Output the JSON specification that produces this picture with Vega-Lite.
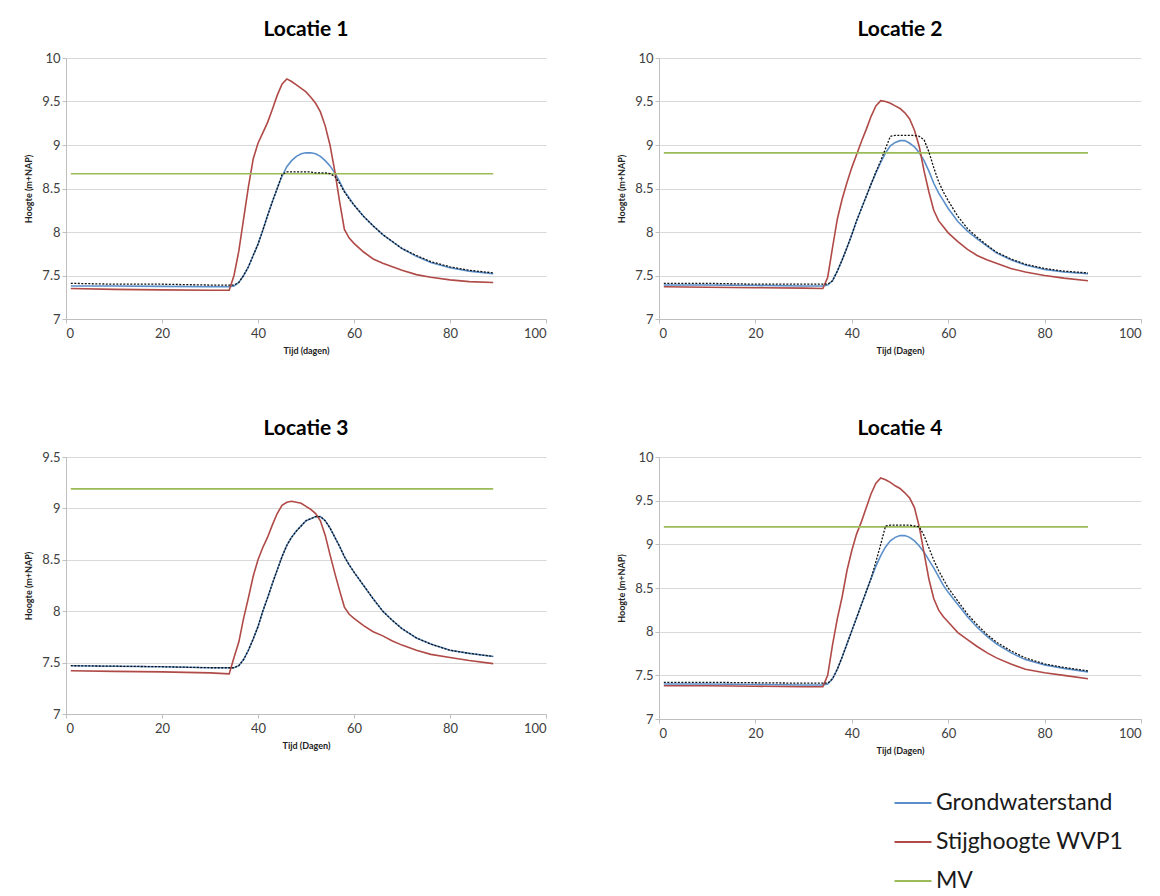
{
  "$schema": "https://vega.github.io/schema/vega-lite/v6.json",
  "background": "white",
  "padding": {"left": 24, "top": 19, "right": 5, "bottom": 5},
  "config": {
    "font": "Lato",
    "view": {"stroke": null},
    "title": {"font": "Lato", "fontSize": 21, "fontWeight": "bold", "color": "#000000", "offset": 12},
    "axis": {"labelFont": "Lato", "labelFontSize": 13, "labelColor": "#404040", "titleFont": "Lato", "titleFontSize": 9, "titleFontWeight": "bold", "titleColor": "#222222", "domainColor": "#bfbfbf", "tickColor": "#bfbfbf", "gridColor": "#d9d9d9", "tickSize": 4},
    "axisX": {"grid": false, "labelPadding": 4, "titlePadding": 6},
    "axisY": {"grid": true, "format": "~g", "titlePadding": 8},
    "legend": {"labelFont": "Lato"}
  },
  "datasets": {
    "reeks": [
      {"p":1,"d":1,"g":7.38,"s":7.35,"k":7.41,"m":8.67},
      {"p":1,"d":10,"g":7.38,"s":7.34,"k":7.40,"m":8.67},
      {"p":1,"d":20,"g":7.375,"s":7.335,"k":7.40,"m":8.67},
      {"p":1,"d":30,"g":7.37,"s":7.33,"k":7.39,"m":8.67},
      {"p":1,"d":34,"g":7.37,"s":7.33,"k":7.39,"m":8.67},
      {"p":1,"d":35,"g":7.38,"s":7.50,"k":7.39,"m":8.67},
      {"p":1,"d":36,"g":7.42,"s":7.78,"k":7.42,"m":8.67},
      {"p":1,"d":37,"g":7.50,"s":8.15,"k":7.50,"m":8.67},
      {"p":1,"d":38,"g":7.60,"s":8.52,"k":7.60,"m":8.67},
      {"p":1,"d":39,"g":7.73,"s":8.84,"k":7.73,"m":8.67},
      {"p":1,"d":40,"g":7.86,"s":9.02,"k":7.86,"m":8.67},
      {"p":1,"d":41,"g":8.02,"s":9.14,"k":8.02,"m":8.67},
      {"p":1,"d":42,"g":8.19,"s":9.26,"k":8.19,"m":8.67},
      {"p":1,"d":43,"g":8.35,"s":9.41,"k":8.35,"m":8.67},
      {"p":1,"d":44,"g":8.50,"s":9.57,"k":8.50,"m":8.67},
      {"p":1,"d":45,"g":8.64,"s":9.70,"k":8.66,"m":8.67},
      {"p":1,"d":46,"g":8.75,"s":9.76,"k":8.69,"m":8.67},
      {"p":1,"d":47,"g":8.82,"s":9.73,"k":8.69,"m":8.67},
      {"p":1,"d":48,"g":8.87,"s":9.69,"k":8.69,"m":8.67},
      {"p":1,"d":49,"g":8.90,"s":9.65,"k":8.69,"m":8.67},
      {"p":1,"d":50,"g":8.91,"s":9.61,"k":8.69,"m":8.67},
      {"p":1,"d":51,"g":8.91,"s":9.55,"k":8.69,"m":8.67},
      {"p":1,"d":52,"g":8.90,"s":9.48,"k":8.68,"m":8.67},
      {"p":1,"d":53,"g":8.87,"s":9.38,"k":8.68,"m":8.67},
      {"p":1,"d":54,"g":8.82,"s":9.22,"k":8.68,"m":8.67},
      {"p":1,"d":55,"g":8.76,"s":9.00,"k":8.67,"m":8.67},
      {"p":1,"d":56,"g":8.68,"s":8.70,"k":8.64,"m":8.67},
      {"p":1,"d":57,"g":8.58,"s":8.35,"k":8.56,"m":8.67},
      {"p":1,"d":58,"g":8.47,"s":8.03,"k":8.46,"m":8.67},
      {"p":1,"d":59,"g":8.39,"s":7.93,"k":8.38,"m":8.67},
      {"p":1,"d":60,"g":8.31,"s":7.87,"k":8.31,"m":8.67},
      {"p":1,"d":62,"g":8.18,"s":7.77,"k":8.18,"m":8.67},
      {"p":1,"d":64,"g":8.07,"s":7.69,"k":8.07,"m":8.67},
      {"p":1,"d":66,"g":7.97,"s":7.64,"k":7.97,"m":8.67},
      {"p":1,"d":68,"g":7.89,"s":7.60,"k":7.89,"m":8.67},
      {"p":1,"d":70,"g":7.81,"s":7.56,"k":7.81,"m":8.67},
      {"p":1,"d":73,"g":7.72,"s":7.51,"k":7.73,"m":8.67},
      {"p":1,"d":76,"g":7.65,"s":7.48,"k":7.66,"m":8.67},
      {"p":1,"d":80,"g":7.59,"s":7.45,"k":7.60,"m":8.67},
      {"p":1,"d":84,"g":7.55,"s":7.43,"k":7.56,"m":8.67},
      {"p":1,"d":89,"g":7.52,"s":7.42,"k":7.53,"m":8.67},

      {"p":2,"d":1,"g":7.39,"s":7.37,"k":7.41,"m":8.91},
      {"p":2,"d":10,"g":7.39,"s":7.365,"k":7.41,"m":8.91},
      {"p":2,"d":20,"g":7.385,"s":7.36,"k":7.40,"m":8.91},
      {"p":2,"d":30,"g":7.38,"s":7.355,"k":7.40,"m":8.91},
      {"p":2,"d":34,"g":7.38,"s":7.35,"k":7.40,"m":8.91},
      {"p":2,"d":35,"g":7.39,"s":7.48,"k":7.40,"m":8.91},
      {"p":2,"d":36,"g":7.44,"s":7.82,"k":7.44,"m":8.91},
      {"p":2,"d":37,"g":7.55,"s":8.15,"k":7.55,"m":8.91},
      {"p":2,"d":38,"g":7.68,"s":8.38,"k":7.68,"m":8.91},
      {"p":2,"d":39,"g":7.82,"s":8.57,"k":7.82,"m":8.91},
      {"p":2,"d":40,"g":7.97,"s":8.74,"k":7.97,"m":8.91},
      {"p":2,"d":41,"g":8.13,"s":8.89,"k":8.13,"m":8.91},
      {"p":2,"d":42,"g":8.27,"s":9.04,"k":8.27,"m":8.91},
      {"p":2,"d":43,"g":8.41,"s":9.18,"k":8.41,"m":8.91},
      {"p":2,"d":44,"g":8.55,"s":9.33,"k":8.55,"m":8.91},
      {"p":2,"d":45,"g":8.68,"s":9.45,"k":8.69,"m":8.91},
      {"p":2,"d":46,"g":8.80,"s":9.51,"k":8.82,"m":8.91},
      {"p":2,"d":47,"g":8.91,"s":9.50,"k":8.96,"m":8.91},
      {"p":2,"d":48,"g":8.99,"s":9.48,"k":9.10,"m":8.91},
      {"p":2,"d":49,"g":9.03,"s":9.45,"k":9.11,"m":8.91},
      {"p":2,"d":50,"g":9.05,"s":9.42,"k":9.11,"m":8.91},
      {"p":2,"d":51,"g":9.05,"s":9.37,"k":9.11,"m":8.91},
      {"p":2,"d":52,"g":9.02,"s":9.30,"k":9.11,"m":8.91},
      {"p":2,"d":53,"g":8.98,"s":9.17,"k":9.11,"m":8.91},
      {"p":2,"d":54,"g":8.91,"s":8.98,"k":9.10,"m":8.91},
      {"p":2,"d":55,"g":8.82,"s":8.70,"k":9.06,"m":8.91},
      {"p":2,"d":56,"g":8.70,"s":8.46,"k":8.92,"m":8.91},
      {"p":2,"d":57,"g":8.56,"s":8.25,"k":8.74,"m":8.91},
      {"p":2,"d":58,"g":8.45,"s":8.13,"k":8.58,"m":8.91},
      {"p":2,"d":59,"g":8.36,"s":8.06,"k":8.46,"m":8.91},
      {"p":2,"d":60,"g":8.27,"s":7.99,"k":8.36,"m":8.91},
      {"p":2,"d":62,"g":8.12,"s":7.89,"k":8.18,"m":8.91},
      {"p":2,"d":64,"g":8.01,"s":7.80,"k":8.04,"m":8.91},
      {"p":2,"d":66,"g":7.92,"s":7.73,"k":7.94,"m":8.91},
      {"p":2,"d":68,"g":7.84,"s":7.68,"k":7.85,"m":8.91},
      {"p":2,"d":70,"g":7.76,"s":7.64,"k":7.77,"m":8.91},
      {"p":2,"d":73,"g":7.68,"s":7.58,"k":7.69,"m":8.91},
      {"p":2,"d":76,"g":7.62,"s":7.54,"k":7.63,"m":8.91},
      {"p":2,"d":80,"g":7.57,"s":7.50,"k":7.58,"m":8.91},
      {"p":2,"d":84,"g":7.54,"s":7.47,"k":7.55,"m":8.91},
      {"p":2,"d":89,"g":7.52,"s":7.44,"k":7.53,"m":8.91},

      {"p":3,"d":1,"g":7.47,"s":7.42,"k":7.47,"m":9.19},
      {"p":3,"d":10,"g":7.465,"s":7.415,"k":7.465,"m":9.19},
      {"p":3,"d":20,"g":7.46,"s":7.41,"k":7.46,"m":9.19},
      {"p":3,"d":30,"g":7.45,"s":7.40,"k":7.45,"m":9.19},
      {"p":3,"d":34,"g":7.45,"s":7.39,"k":7.45,"m":9.19},
      {"p":3,"d":35,"g":7.45,"s":7.55,"k":7.45,"m":9.19},
      {"p":3,"d":36,"g":7.47,"s":7.70,"k":7.47,"m":9.19},
      {"p":3,"d":37,"g":7.53,"s":7.93,"k":7.53,"m":9.19},
      {"p":3,"d":38,"g":7.62,"s":8.13,"k":7.62,"m":9.19},
      {"p":3,"d":39,"g":7.73,"s":8.34,"k":7.73,"m":9.19},
      {"p":3,"d":40,"g":7.85,"s":8.50,"k":7.85,"m":9.19},
      {"p":3,"d":41,"g":8.00,"s":8.62,"k":8.00,"m":9.19},
      {"p":3,"d":42,"g":8.13,"s":8.72,"k":8.13,"m":9.19},
      {"p":3,"d":43,"g":8.27,"s":8.84,"k":8.27,"m":9.19},
      {"p":3,"d":44,"g":8.40,"s":8.95,"k":8.40,"m":9.19},
      {"p":3,"d":45,"g":8.53,"s":9.03,"k":8.53,"m":9.19},
      {"p":3,"d":46,"g":8.64,"s":9.06,"k":8.64,"m":9.19},
      {"p":3,"d":47,"g":8.72,"s":9.07,"k":8.72,"m":9.19},
      {"p":3,"d":48,"g":8.78,"s":9.06,"k":8.78,"m":9.19},
      {"p":3,"d":49,"g":8.83,"s":9.05,"k":8.83,"m":9.19},
      {"p":3,"d":50,"g":8.88,"s":9.02,"k":8.88,"m":9.19},
      {"p":3,"d":51,"g":8.90,"s":8.99,"k":8.90,"m":9.19},
      {"p":3,"d":52,"g":8.92,"s":8.95,"k":8.92,"m":9.19},
      {"p":3,"d":53,"g":8.92,"s":8.88,"k":8.92,"m":9.19},
      {"p":3,"d":54,"g":8.88,"s":8.74,"k":8.88,"m":9.19},
      {"p":3,"d":55,"g":8.81,"s":8.55,"k":8.81,"m":9.19},
      {"p":3,"d":56,"g":8.72,"s":8.37,"k":8.72,"m":9.19},
      {"p":3,"d":57,"g":8.63,"s":8.20,"k":8.63,"m":9.19},
      {"p":3,"d":58,"g":8.53,"s":8.04,"k":8.53,"m":9.19},
      {"p":3,"d":59,"g":8.45,"s":7.97,"k":8.45,"m":9.19},
      {"p":3,"d":60,"g":8.38,"s":7.93,"k":8.38,"m":9.19},
      {"p":3,"d":62,"g":8.25,"s":7.86,"k":8.25,"m":9.19},
      {"p":3,"d":64,"g":8.12,"s":7.80,"k":8.12,"m":9.19},
      {"p":3,"d":66,"g":8.00,"s":7.76,"k":8.00,"m":9.19},
      {"p":3,"d":68,"g":7.91,"s":7.71,"k":7.91,"m":9.19},
      {"p":3,"d":70,"g":7.83,"s":7.67,"k":7.83,"m":9.19},
      {"p":3,"d":73,"g":7.74,"s":7.62,"k":7.74,"m":9.19},
      {"p":3,"d":76,"g":7.68,"s":7.58,"k":7.68,"m":9.19},
      {"p":3,"d":80,"g":7.62,"s":7.55,"k":7.62,"m":9.19},
      {"p":3,"d":84,"g":7.59,"s":7.52,"k":7.59,"m":9.19},
      {"p":3,"d":89,"g":7.56,"s":7.49,"k":7.56,"m":9.19},

      {"p":4,"d":1,"g":7.40,"s":7.38,"k":7.42,"m":9.20},
      {"p":4,"d":10,"g":7.40,"s":7.38,"k":7.42,"m":9.20},
      {"p":4,"d":20,"g":7.395,"s":7.375,"k":7.415,"m":9.20},
      {"p":4,"d":30,"g":7.39,"s":7.37,"k":7.41,"m":9.20},
      {"p":4,"d":34,"g":7.39,"s":7.37,"k":7.41,"m":9.20},
      {"p":4,"d":35,"g":7.40,"s":7.50,"k":7.41,"m":9.20},
      {"p":4,"d":36,"g":7.46,"s":7.85,"k":7.46,"m":9.20},
      {"p":4,"d":37,"g":7.57,"s":8.15,"k":7.57,"m":9.20},
      {"p":4,"d":38,"g":7.71,"s":8.40,"k":7.71,"m":9.20},
      {"p":4,"d":39,"g":7.86,"s":8.70,"k":7.86,"m":9.20},
      {"p":4,"d":40,"g":8.01,"s":8.93,"k":8.01,"m":9.20},
      {"p":4,"d":41,"g":8.16,"s":9.12,"k":8.16,"m":9.20},
      {"p":4,"d":42,"g":8.31,"s":9.26,"k":8.31,"m":9.20},
      {"p":4,"d":43,"g":8.46,"s":9.42,"k":8.46,"m":9.20},
      {"p":4,"d":44,"g":8.61,"s":9.58,"k":8.61,"m":9.20},
      {"p":4,"d":45,"g":8.75,"s":9.70,"k":8.80,"m":9.20},
      {"p":4,"d":46,"g":8.87,"s":9.76,"k":9.00,"m":9.20},
      {"p":4,"d":47,"g":8.97,"s":9.74,"k":9.21,"m":9.20},
      {"p":4,"d":48,"g":9.04,"s":9.71,"k":9.22,"m":9.20},
      {"p":4,"d":49,"g":9.08,"s":9.67,"k":9.22,"m":9.20},
      {"p":4,"d":50,"g":9.10,"s":9.64,"k":9.22,"m":9.20},
      {"p":4,"d":51,"g":9.10,"s":9.59,"k":9.22,"m":9.20},
      {"p":4,"d":52,"g":9.08,"s":9.53,"k":9.22,"m":9.20},
      {"p":4,"d":53,"g":9.04,"s":9.42,"k":9.21,"m":9.20},
      {"p":4,"d":54,"g":8.98,"s":9.20,"k":9.20,"m":9.20},
      {"p":4,"d":55,"g":8.91,"s":8.90,"k":9.10,"m":9.20},
      {"p":4,"d":56,"g":8.82,"s":8.60,"k":8.96,"m":9.20},
      {"p":4,"d":57,"g":8.73,"s":8.38,"k":8.82,"m":9.20},
      {"p":4,"d":58,"g":8.63,"s":8.25,"k":8.70,"m":9.20},
      {"p":4,"d":59,"g":8.53,"s":8.17,"k":8.60,"m":9.20},
      {"p":4,"d":60,"g":8.45,"s":8.11,"k":8.50,"m":9.20},
      {"p":4,"d":62,"g":8.31,"s":7.99,"k":8.35,"m":9.20},
      {"p":4,"d":64,"g":8.17,"s":7.91,"k":8.20,"m":9.20},
      {"p":4,"d":66,"g":8.05,"s":7.83,"k":8.08,"m":9.20},
      {"p":4,"d":68,"g":7.95,"s":7.76,"k":7.97,"m":9.20},
      {"p":4,"d":70,"g":7.86,"s":7.70,"k":7.88,"m":9.20},
      {"p":4,"d":73,"g":7.76,"s":7.63,"k":7.78,"m":9.20},
      {"p":4,"d":76,"g":7.68,"s":7.57,"k":7.70,"m":9.20},
      {"p":4,"d":80,"g":7.62,"s":7.53,"k":7.63,"m":9.20},
      {"p":4,"d":84,"g":7.58,"s":7.50,"k":7.59,"m":9.20},
      {"p":4,"d":89,"g":7.54,"s":7.46,"k":7.55,"m":9.20}
    ]
  },
  "data": {"name": "reeks"},
  "spacing": 63,
  "vconcat": [
    {
      "spacing": 70,
      "hconcat": [
        {
          "title": "Locatie 1",
          "width": 480, "height": 261,
          "transform": [{"filter": "datum.p == 1"}],
          "layer": [
            {
              "transform": [{"fold": ["g", "s", "m"], "as": ["serie", "h"]}],
              "mark": {"type": "line", "strokeWidth": 1.6},
              "encoding": {
                "x": {"field": "d", "type": "quantitative", "scale": {"domain": [0, 100], "nice": false}, "title": "Tijd (dagen)", "axis": {"values": [0, 20, 40, 60, 80, 100]}},
                "y": {"field": "h", "type": "quantitative", "scale": {"domain": [7, 10], "nice": false}, "title": "Hoogte (m+NAP)", "axis": {"values": [7, 7.5, 8, 8.5, 9, 9.5, 10]}},
                "color": {"field": "serie", "type": "nominal", "scale": {"domain": ["g", "s", "m"], "range": ["#5b8fc9", "#b04a47", "#9bbb59"]},
                  "legend": {"orient": "none", "legendX": 827, "legendY": 725, "title": null, "symbolType": "stroke", "symbolSize": 1369, "symbolStrokeWidth": 2.2, "labelFontSize": 23, "labelColor": "#1a1a1a", "labelOffset": 3, "rowPadding": 7, "labelLimit": 400,
                    "labelExpr": "datum.value == 'g' ? 'Grondwaterstand' : datum.value == 's' ? 'Stijghoogte WVP1' : 'MV'"}}
              }
            },
            {
              "mark": {"type": "line", "color": "#111111", "strokeWidth": 1.3, "strokeDash": [2, 1.5]},
              "encoding": {
                "x": {"field": "d", "type": "quantitative"},
                "y": {"field": "k", "type": "quantitative"}
              }
            }
          ]
        },
        {
          "title": "Locatie 2",
          "width": 482, "height": 261,
          "transform": [{"filter": "datum.p == 2"}],
          "layer": [
            {
              "transform": [{"fold": ["g", "s", "m"], "as": ["serie", "h"]}],
              "mark": {"type": "line", "strokeWidth": 1.6},
              "encoding": {
                "x": {"field": "d", "type": "quantitative", "scale": {"domain": [0, 100], "nice": false}, "title": "Tijd (Dagen)", "axis": {"values": [0, 20, 40, 60, 80, 100]}},
                "y": {"field": "h", "type": "quantitative", "scale": {"domain": [7, 10], "nice": false}, "title": "Hoogte (m+NAP)", "axis": {"values": [7, 7.5, 8, 8.5, 9, 9.5, 10]}},
                "color": {"field": "serie", "type": "nominal"}
              }
            },
            {
              "mark": {"type": "line", "color": "#111111", "strokeWidth": 1.3, "strokeDash": [2, 1.5]},
              "encoding": {
                "x": {"field": "d", "type": "quantitative"},
                "y": {"field": "k", "type": "quantitative"}
              }
            }
          ]
        }
      ]
    },
    {
      "spacing": 70,
      "hconcat": [
        {
          "title": "Locatie 3",
          "width": 480, "height": 257,
          "transform": [{"filter": "datum.p == 3"}],
          "layer": [
            {
              "transform": [{"fold": ["g", "s", "m"], "as": ["serie", "h"]}],
              "mark": {"type": "line", "strokeWidth": 1.6},
              "encoding": {
                "x": {"field": "d", "type": "quantitative", "scale": {"domain": [0, 100], "nice": false}, "title": "Tijd (Dagen)", "axis": {"values": [0, 20, 40, 60, 80, 100]}},
                "y": {"field": "h", "type": "quantitative", "scale": {"domain": [7, 9.5], "nice": false}, "title": "Hoogte (m+NAP)", "axis": {"values": [7, 7.5, 8, 8.5, 9, 9.5]}},
                "color": {"field": "serie", "type": "nominal"}
              }
            },
            {
              "mark": {"type": "line", "color": "#111111", "strokeWidth": 1.3, "strokeDash": [2, 1.5]},
              "encoding": {
                "x": {"field": "d", "type": "quantitative"},
                "y": {"field": "k", "type": "quantitative"}
              }
            }
          ]
        },
        {
          "title": "Locatie 4",
          "width": 482, "height": 262,
          "transform": [{"filter": "datum.p == 4"}],
          "layer": [
            {
              "transform": [{"fold": ["g", "s", "m"], "as": ["serie", "h"]}],
              "mark": {"type": "line", "strokeWidth": 1.6},
              "encoding": {
                "x": {"field": "d", "type": "quantitative", "scale": {"domain": [0, 100], "nice": false}, "title": "Tijd (Dagen)", "axis": {"values": [0, 20, 40, 60, 80, 100]}},
                "y": {"field": "h", "type": "quantitative", "scale": {"domain": [7, 10], "nice": false}, "title": "Hoogte (m+NAP)", "axis": {"values": [7, 7.5, 8, 8.5, 9, 9.5, 10]}},
                "color": {"field": "serie", "type": "nominal"}
              }
            },
            {
              "mark": {"type": "line", "color": "#111111", "strokeWidth": 1.3, "strokeDash": [2, 1.5]},
              "encoding": {
                "x": {"field": "d", "type": "quantitative"},
                "y": {"field": "k", "type": "quantitative"}
              }
            }
          ]
        }
      ]
    }
  ]
}
